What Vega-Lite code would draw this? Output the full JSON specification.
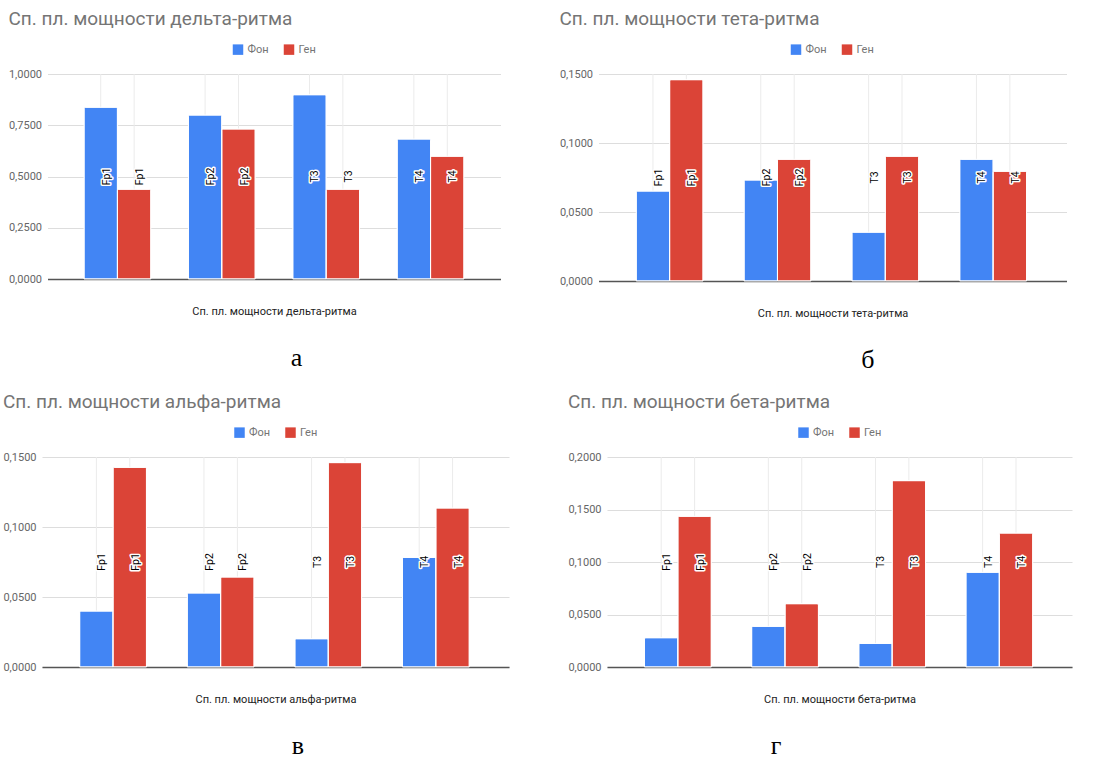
{
  "$schema": "https://vega.github.io/schema/vega-lite/v6.json",
  "padding": {"left": 2, "top": 10, "right": 5, "bottom": 0},
  "background": "white",
  "datasets": {
    "delta": [
      {"lead": "Fp1", "series": "Фон", "value": 0.838},
      {"lead": "Fp1", "series": "Ген", "value": 0.438},
      {"lead": "Fp2", "series": "Фон", "value": 0.800},
      {"lead": "Fp2", "series": "Ген", "value": 0.732},
      {"lead": "T3", "series": "Фон", "value": 0.899},
      {"lead": "T3", "series": "Ген", "value": 0.438},
      {"lead": "T4", "series": "Фон", "value": 0.683},
      {"lead": "T4", "series": "Ген", "value": 0.599}
    ],
    "theta": [
      {"lead": "Fp1", "series": "Фон", "value": 0.0652},
      {"lead": "Fp1", "series": "Ген", "value": 0.1459},
      {"lead": "Fp2", "series": "Фон", "value": 0.0732},
      {"lead": "Fp2", "series": "Ген", "value": 0.0882},
      {"lead": "T3", "series": "Фон", "value": 0.0354},
      {"lead": "T3", "series": "Ген", "value": 0.0904},
      {"lead": "T4", "series": "Фон", "value": 0.0882},
      {"lead": "T4", "series": "Ген", "value": 0.0795}
    ],
    "alpha": [
      {"lead": "Fp1", "series": "Фон", "value": 0.0400},
      {"lead": "Fp1", "series": "Ген", "value": 0.1426},
      {"lead": "Fp2", "series": "Фон", "value": 0.0529},
      {"lead": "Fp2", "series": "Ген", "value": 0.0643},
      {"lead": "T3", "series": "Фон", "value": 0.0202},
      {"lead": "T3", "series": "Ген", "value": 0.1460},
      {"lead": "T4", "series": "Фон", "value": 0.0783},
      {"lead": "T4", "series": "Ген", "value": 0.1136}
    ],
    "beta": [
      {"lead": "Fp1", "series": "Фон", "value": 0.0279},
      {"lead": "Fp1", "series": "Ген", "value": 0.1435},
      {"lead": "Fp2", "series": "Фон", "value": 0.0387},
      {"lead": "Fp2", "series": "Ген", "value": 0.0603},
      {"lead": "T3", "series": "Фон", "value": 0.0225},
      {"lead": "T3", "series": "Ген", "value": 0.1775},
      {"lead": "T4", "series": "Фон", "value": 0.0902},
      {"lead": "T4", "series": "Ген", "value": 0.1276}
    ]
  },
  "vconcat": [
    {
      "hconcat": [
        {
          "title": {"text": "а", "orient": "bottom", "anchor": "middle", "font": "Liberation Serif", "fontSize": 26, "fontWeight": "normal", "color": "#000000", "dx": 42, "offset": 29},
          "vconcat": [
            {
              "width": 453, "height": 205,
              "title": "Сп. пл. мощности дельта-ритма",
              "data": {"name": "delta"},
              "encoding": {
                "x": {"field": "lead", "type": "nominal", "sort": null, "scale": {"paddingInner": 0.36, "paddingOuter": 0.35}, "axis": {"title": "Сп. пл. мощности дельта-ритма"}},
                "xOffset": {"field": "series", "type": "nominal", "sort": ["Фон", "Ген"], "scale": {"paddingInner": 0, "paddingOuter": 0}}
              },
              "layer": [
                {"mark": {"type": "rule", "color": "#ebebeb", "strokeWidth": 1}, "encoding": {}},
                {"mark": {"type": "bar", "stroke": "white", "strokeWidth": 1, "cornerRadiusTopLeft": 1.5, "cornerRadiusTopRight": 1.5},
                 "encoding": {
                   "y": {"field": "value", "type": "quantitative", "scale": {"domain": [0, 1], "nice": false}, "axis": {"values": [0, 0.25, 0.5, 0.75, 1]}},
                   "color": {"field": "series", "type": "nominal", "sort": ["Фон", "Ген"], "scale": {"domain": ["Фон", "Ген"], "range": ["#4285F4", "#DB4437"]}}
                 }},
                {"mark": {"type": "text", "angle": 270, "align": "center", "baseline": "middle", "dy": 6, "fontSize": 10.5, "stroke": "white", "strokeWidth": 3, "strokeJoin": "round", "color": "white"},
                 "encoding": {"y": {"datum": 0.5}, "text": {"field": "lead"}}},
                {"mark": {"type": "text", "angle": 270, "align": "center", "baseline": "middle", "dy": 6, "fontSize": 10.5, "color": "#000000"},
                 "encoding": {"y": {"datum": 0.5}, "text": {"field": "lead"}}}
              ]
            }
          ],
          "resolve": {"scale": {"color": "independent"}, "legend": {"color": "independent"}}
        },
        {
          "title": {"text": "б", "orient": "bottom", "anchor": "middle", "font": "Liberation Serif", "fontSize": 26, "fontWeight": "normal", "color": "#000000", "dx": 55, "offset": 29},
          "vconcat": [
            {
              "width": 468, "height": 207,
              "title": "Сп. пл. мощности тета-ритма",
              "data": {"name": "theta"},
              "encoding": {
                "x": {"field": "lead", "type": "nominal", "sort": null, "scale": {"paddingInner": 0.36, "paddingOuter": 0.35}, "axis": {"title": "Сп. пл. мощности тета-ритма"}},
                "xOffset": {"field": "series", "type": "nominal", "sort": ["Фон", "Ген"], "scale": {"paddingInner": 0, "paddingOuter": 0}}
              },
              "layer": [
                {"mark": {"type": "rule", "color": "#ebebeb", "strokeWidth": 1}, "encoding": {}},
                {"mark": {"type": "bar", "stroke": "white", "strokeWidth": 1, "cornerRadiusTopLeft": 1.5, "cornerRadiusTopRight": 1.5},
                 "encoding": {
                   "y": {"field": "value", "type": "quantitative", "scale": {"domain": [0, 0.15], "nice": false}, "axis": {"values": [0, 0.05, 0.1, 0.15]}},
                   "color": {"field": "series", "type": "nominal", "sort": ["Фон", "Ген"], "scale": {"domain": ["Фон", "Ген"], "range": ["#4285F4", "#DB4437"]}}
                 }},
                {"mark": {"type": "text", "angle": 270, "align": "center", "baseline": "middle", "dy": 6, "fontSize": 10.5, "stroke": "white", "strokeWidth": 3, "strokeJoin": "round", "color": "white"},
                 "encoding": {"y": {"datum": 0.075}, "text": {"field": "lead"}}},
                {"mark": {"type": "text", "angle": 270, "align": "center", "baseline": "middle", "dy": 6, "fontSize": 10.5, "color": "#000000"},
                 "encoding": {"y": {"datum": 0.075}, "text": {"field": "lead"}}}
              ]
            }
          ],
          "resolve": {"scale": {"color": "independent"}, "legend": {"color": "independent"}}
        }
      ],
      "spacing": 58,
      "resolve": {"scale": {"color": "independent"}, "legend": {"color": "independent"}}
    },
    {
      "hconcat": [
        {
          "title": {"text": "в", "orient": "bottom", "anchor": "middle", "font": "Liberation Serif", "fontSize": 26, "fontWeight": "normal", "color": "#000000", "dx": 42, "offset": 29},
          "vconcat": [
            {
              "width": 467, "height": 210,
              "title": "Сп. пл. мощности альфа-ритма",
              "data": {"name": "alpha"},
              "encoding": {
                "x": {"field": "lead", "type": "nominal", "sort": null, "scale": {"paddingInner": 0.36, "paddingOuter": 0.35}, "axis": {"title": "Сп. пл. мощности альфа-ритма"}},
                "xOffset": {"field": "series", "type": "nominal", "sort": ["Фон", "Ген"], "scale": {"paddingInner": 0, "paddingOuter": 0}}
              },
              "layer": [
                {"mark": {"type": "rule", "color": "#ebebeb", "strokeWidth": 1}, "encoding": {}},
                {"mark": {"type": "bar", "stroke": "white", "strokeWidth": 1, "cornerRadiusTopLeft": 1.5, "cornerRadiusTopRight": 1.5},
                 "encoding": {
                   "y": {"field": "value", "type": "quantitative", "scale": {"domain": [0, 0.15], "nice": false}, "axis": {"values": [0, 0.05, 0.1, 0.15]}},
                   "color": {"field": "series", "type": "nominal", "sort": ["Фон", "Ген"], "scale": {"domain": ["Фон", "Ген"], "range": ["#4285F4", "#DB4437"]}}
                 }},
                {"mark": {"type": "text", "angle": 270, "align": "center", "baseline": "middle", "dy": 6, "fontSize": 10.5, "stroke": "white", "strokeWidth": 3, "strokeJoin": "round", "color": "white"},
                 "encoding": {"y": {"datum": 0.075}, "text": {"field": "lead"}}},
                {"mark": {"type": "text", "angle": 270, "align": "center", "baseline": "middle", "dy": 6, "fontSize": 10.5, "color": "#000000"},
                 "encoding": {"y": {"datum": 0.075}, "text": {"field": "lead"}}}
              ]
            }
          ],
          "resolve": {"scale": {"color": "independent"}, "legend": {"color": "independent"}}
        },
        {
          "title": {"text": "г", "orient": "bottom", "anchor": "middle", "font": "Liberation Serif", "fontSize": 26, "fontWeight": "normal", "color": "#000000", "dx": -44, "offset": 29},
          "vconcat": [
            {
              "width": 465, "height": 210,
              "title": "Сп. пл. мощности бета-ритма",
              "data": {"name": "beta"},
              "encoding": {
                "x": {"field": "lead", "type": "nominal", "sort": null, "scale": {"paddingInner": 0.36, "paddingOuter": 0.35}, "axis": {"title": "Сп. пл. мощности бета-ритма"}},
                "xOffset": {"field": "series", "type": "nominal", "sort": ["Фон", "Ген"], "scale": {"paddingInner": 0, "paddingOuter": 0}}
              },
              "layer": [
                {"mark": {"type": "rule", "color": "#ebebeb", "strokeWidth": 1}, "encoding": {}},
                {"mark": {"type": "bar", "stroke": "white", "strokeWidth": 1, "cornerRadiusTopLeft": 1.5, "cornerRadiusTopRight": 1.5},
                 "encoding": {
                   "y": {"field": "value", "type": "quantitative", "scale": {"domain": [0, 0.2], "nice": false}, "axis": {"values": [0, 0.05, 0.1, 0.15, 0.2]}},
                   "color": {"field": "series", "type": "nominal", "sort": ["Фон", "Ген"], "scale": {"domain": ["Фон", "Ген"], "range": ["#4285F4", "#DB4437"]}}
                 }},
                {"mark": {"type": "text", "angle": 270, "align": "center", "baseline": "middle", "dy": 6, "fontSize": 10.5, "stroke": "white", "strokeWidth": 3, "strokeJoin": "round", "color": "white"},
                 "encoding": {"y": {"datum": 0.1}, "text": {"field": "lead"}}},
                {"mark": {"type": "text", "angle": 270, "align": "center", "baseline": "middle", "dy": 6, "fontSize": 10.5, "color": "#000000"},
                 "encoding": {"y": {"datum": 0.1}, "text": {"field": "lead"}}}
              ]
            }
          ],
          "resolve": {"scale": {"color": "independent"}, "legend": {"color": "independent"}}
        }
      ],
      "spacing": 58,
      "resolve": {"scale": {"color": "independent"}, "legend": {"color": "independent"}}
    }
  ],
  "spacing": 20,
  "center": true,
  "resolve": {"scale": {"color": "independent"}, "legend": {"color": "independent"}},
  "config": {
    "font": "Roboto",
    "locale": {"number": {"decimal": ",", "thousands": " ", "grouping": [3], "currency": ["", ""]}},
    "view": {"stroke": null},
    "title": {"anchor": "start", "frame": "bounds", "fontSize": 19, "fontWeight": "normal", "color": "#757575", "offset": 15},
    "axisX": {"labels": false, "ticks": false, "grid": false, "domainColor": "#555555", "domainWidth": 1.5, "titleFontSize": 11, "titleFontWeight": "normal", "titleColor": "#222222", "titlePadding": 26},
    "axisY": {"title": null, "format": ".4f", "domain": false, "ticks": false, "gridColor": "#dddddd", "labelColor": "#666666", "labelFontSize": 11, "labelPadding": 6},
    "legend": {"orient": "top", "title": null, "symbolType": "square", "symbolSize": 110, "symbolStrokeWidth": 0, "labelColor": "#757575", "labelFontSize": 11, "columnPadding": 14, "offset": 19, "layout": {"top": {"anchor": "middle"}}}
  }
}
